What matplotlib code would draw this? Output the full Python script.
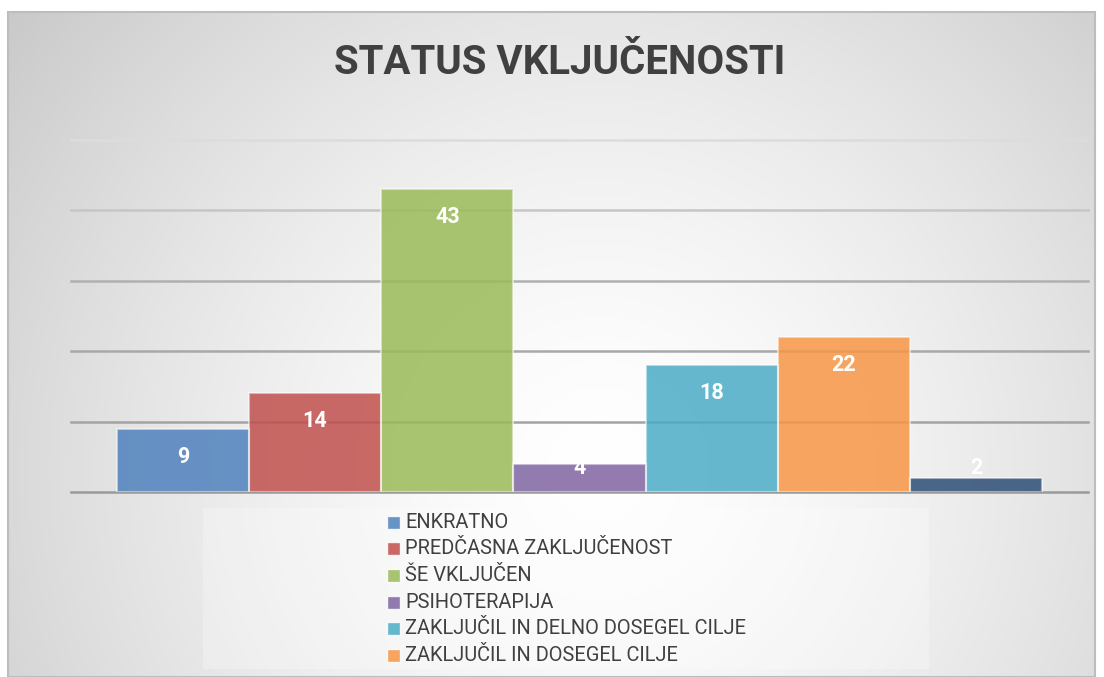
import numpy as np
import matplotlib.pyplot as plt
from matplotlib.patches import Rectangle

categories = ['ENKRATNO', 'PREDČASNA ZAKLJUČENOST', 'ŠE VKLJUČEN', 'PSIHOTERAPIJA',
              'ZAKLJUČIL IN DELNO DOSEGEL CILJE', 'ZAKLJUČIL IN DOSEGEL CILJE', 'DRUGO']
values = [9, 14, 43, 4, 18, 22, 2]
colors = ['#4F81BD', '#C0504D', '#9BBB59', '#8064A2', '#4BACC6', '#F79646', '#2C4D75']
title = 'STATUS VKLJUČENOSTI'
# only the first six legend entries are visible in the chart
legend_count = 6

fonts = ['Roboto', 'DejaVu Sans']
W, H = 1104, 677
fig = plt.figure(figsize=(W / 100, H / 100), dpi=100)

# background axes in pixel coordinates
bg = fig.add_axes([0, 0, 1, 1])
bg.set_xlim(0, W)
bg.set_ylim(H, 0)
bg.axis('off')
x0, y0, x1, y1 = 8, 12, 1095, 677
xx, yy = np.meshgrid(np.linspace(x0, x1, 400), np.linspace(y0, y1, 250))
d = np.sqrt((xx - 600) ** 2 + (yy - 470) ** 2)
grad = 255 - 55 * np.clip(d / 760, 0, 1.1) ** 1.5
grad = np.clip(grad, 190, 255) / 255
bg.imshow(np.dstack([grad, grad, grad]), extent=(x0, x1, y1, y0), aspect='auto', zorder=0)
bg.add_patch(Rectangle((x0, y0), x1 - x0, y1 - y0, fill=False, edgecolor='#bdbdbd', lw=1.5, zorder=1))

bg.text(560, 63, title, ha='center', va='center', fontsize=29, fontweight='bold',
        color='#404040', family=fonts, zorder=3)

# legend box (manually drawn, the chart clips it after six rows)
bg.add_patch(Rectangle((203, 508), 726, 161, facecolor='white', alpha=0.25, edgecolor='none', zorder=1))
for i in range(legend_count):
    yc = 522 + 26.7 * i
    bg.add_patch(Rectangle((387, yc - 6.5), 13, 13, facecolor=colors[i], alpha=0.85,
                           edgecolor=(1, 1, 1, 0.5), lw=1, zorder=2))
    bg.text(405, yc, categories[i], ha='left', va='center', fontsize=14.4, color='#404040',
            family=fonts, zorder=3)

# main chart axes
ax = fig.add_axes([71 / W, 1 - 492 / H, 1017 / W, 352 / H])
ax.patch.set_alpha(0)
ax.set_xlim(-0.845, len(values) - 1 + 0.845)
ax.set_ylim(0, 50)
for s in ax.spines.values():
    s.set_visible(False)
ax.set_xticks([])
ax.set_yticks([])

grid_vals = [0, 10, 20, 30, 40, 50]
grid_cols = ['#9a9a9a', '#a3a3a3', '#a8a8a8', '#b0b0b0', '#c6c6c6', '#dcdcdc']
for gv, gc in zip(grid_vals, grid_cols):
    ax.axhline(gv, color=gc, lw=1.8, zorder=1, clip_on=False)

xs = np.arange(len(values))
for x, v, c in zip(xs, values, colors):
    ax.bar(x, v, width=1.0, color=c, alpha=0.85, edgecolor='none', zorder=2)
    ax.bar(x, v, width=1.0, fill=False, edgecolor=(1, 1, 1, 0.5), lw=1.5, zorder=3)
    ax.text(x, max(v - 3.97, 3.4), str(v), ha='center', va='center', color='white',
            fontsize=15.5, fontweight='bold', family=fonts, zorder=4)

fig.savefig('out.png', dpi=100)
